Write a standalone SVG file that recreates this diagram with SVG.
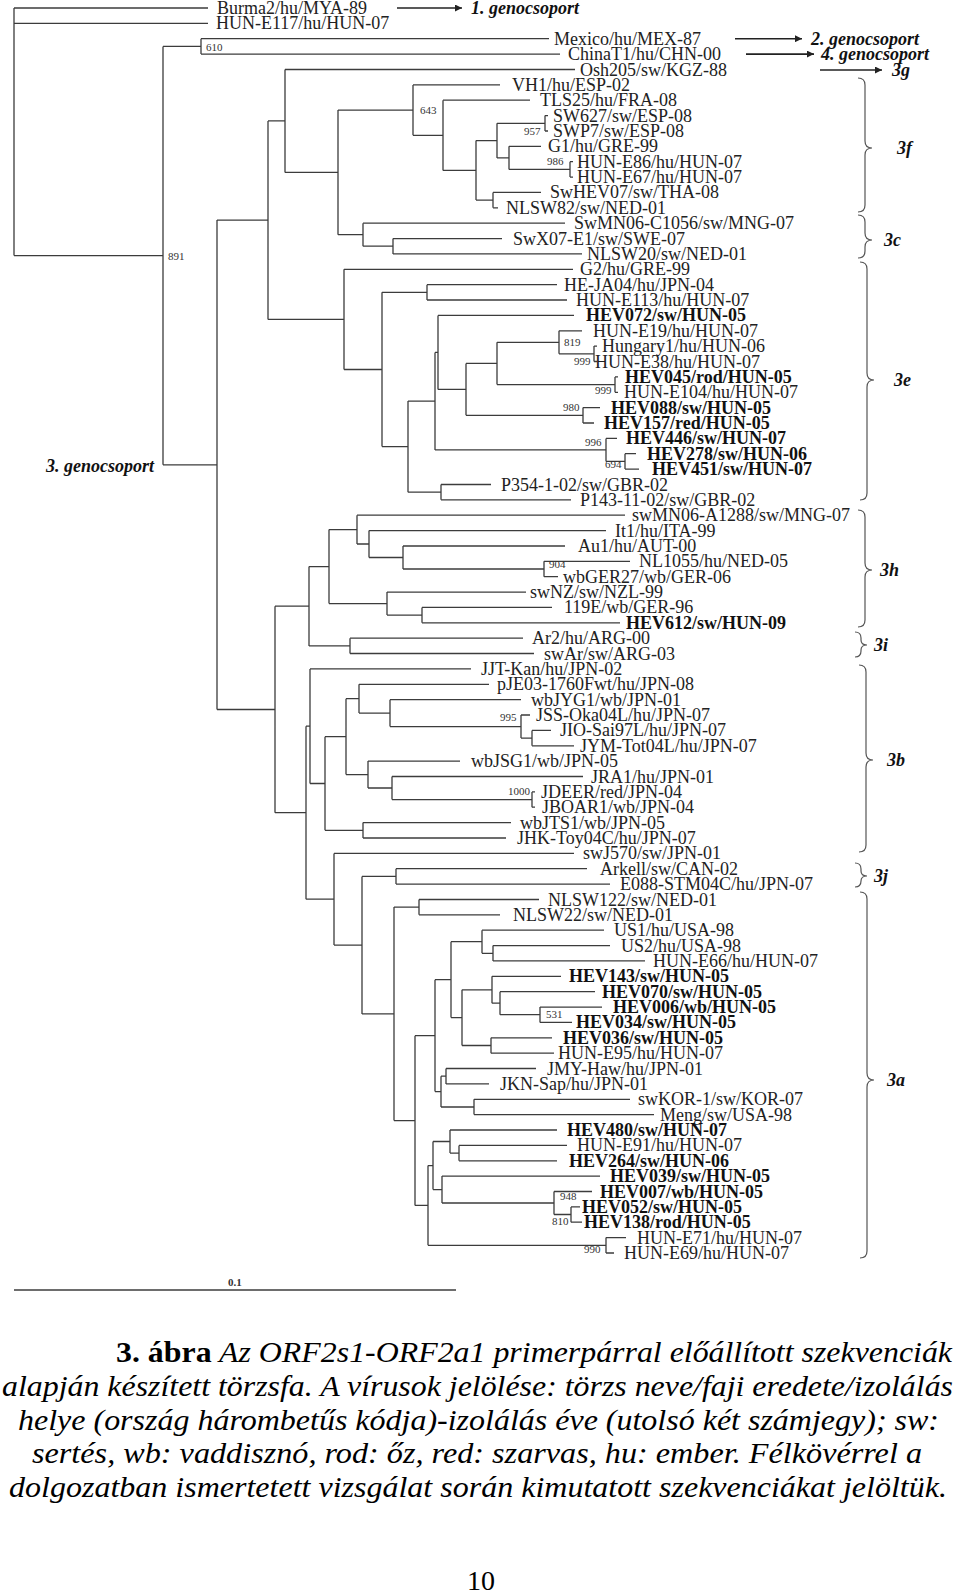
<svg xmlns="http://www.w3.org/2000/svg" width="960" height="1594" viewBox="0 0 960 1594">
<style>
.br{fill:none;stroke:#3c3c3c;stroke-width:1.3}
.lf{font-family:"Liberation Serif","Times New Roman",serif;font-size:18px;fill:#222}
.lb{font-family:"Liberation Serif","Times New Roman",serif;font-size:18px;font-weight:bold;fill:#111}
.bs{font-family:"Liberation Serif","Times New Roman",serif;font-size:11px;fill:#333}
.gl{font-family:"Liberation Serif","Times New Roman",serif;font-size:18px;font-weight:bold;font-style:italic;fill:#111}
.brace{fill:none;stroke:#555;stroke-width:1.2}
.arr{fill:none;stroke:#222;stroke-width:1.6}
.cap{font-family:"Liberation Serif","Times New Roman",serif;font-size:29px;font-style:italic;fill:#000}
.pg{font-family:"Liberation Serif","Times New Roman",serif;font-size:28px;fill:#000}
</style>
<defs>
<marker id="ah" viewBox="0 0 10 10" refX="10" refY="5" markerWidth="10" markerHeight="7" orient="auto" markerUnits="userSpaceOnUse"><path d="M0,0 L10,5 L0,10 z" fill="#222"/></marker>
</defs>
<rect width="960" height="1594" fill="#fff"/>
<g id="connectors">
<path class="br" d="M14,8 V255.6 M14,255.6 H163 M163,46.4 V464.8 M163,46.4 H201 M201,38.7 V54.1 M163,464.8 H217 M217,220.1 V709.5
M217,220.1 H268 M268,120.9 V319.4 M268,120.9 H285 M285,69.5 V172.4 M285,172.4 H338 M338,110.1 V234.7 M338,110.1 H413 M413,84.9 V135.3
M413,135.3 H443 M443,100.2 V170.4 M443,170.4 H476 M476,140.6 V200.1 M476,140.6 H497 M497,123.3 V157.9 M497,123.3 H545 M545,115.6 V131
M497,157.9 H509 M509,146.3 V169.4 M509,169.4 H570 M570,161.7 V177.1 M476,200.1 H493 M493,192.4 V207.8 M338,234.7 H363 M363,223.2 V246.2
M363,246.2 H393 M393,238.6 V253.9 M268,319.4 H344 M344,269.3 V369.5 M344,369.5 H382 M382,292.3 V446.6 M382,292.3 H427 M427,284.7 V300
M382,446.6 H408 M408,401.1 V492.2 M408,401.1 H435 M435,352.4 V449.9 M435,352.4 H438 M438,315.4 V389.4 M438,389.4 H466 M466,363.4 V415.3
M466,363.4 H497 M497,342.3 V384.6 M497,342.3 H559 M559,330.8 V353.8 M559,353.8 H594 M594,346.1 V361.5 M497,384.6 H615 M615,376.9 V392.3
M466,415.3 H583 M583,407.6 V423 M435,449.9 H606 M606,438.4 V461.4 M606,461.4 H625 M625,453.7 V469.1 M408,492.2 H441 M441,484.5 V499.8
M217,709.5 H275 M275,606.2 V812.7 M275,606.2 H309 M309,566.6 V645.9 M309,566.6 H329 M329,529.6 V603.6 M329,529.6 H357 M357,515.2 V544
M357,544 H369 M369,530.6 V557.5 M369,557.5 H403 M403,546 V569 M403,569 H544 M544,561.3 V576.7 M329,603.6 H387 M387,592.1 V615.1
M387,615.1 H422 M422,607.4 V622.8 M309,645.9 H350 M350,638.2 V653.5
M275,812.7 H306 M306,726.2 V899.2 M306,726.2 H310 M310,668.9 V783.5 M310,783.5 H325 M325,736.7 V830.3 M325,736.7 H346 M346,698.7 V774.6
M346,698.7 H359 M359,684.3 V713.1 M359,713.1 H390 M390,699.7 V726.6 M390,726.6 H521 M521,715 V738.1 M521,738.1 H532 M532,730.4 V745.8
M346,774.6 H368 M368,761.1 V788 M368,788 H392 M392,776.5 V799.6 M392,799.6 H532 M532,791.9 V807.2 M325,830.3 H363 M363,822.6 V838
M306,899.2 H334 M334,853.4 V945.1 M334,945.1 H362 M362,876.4 V1013.9 M362,876.4 H396 M396,868.7 V884.1 M362,1013.9 H394 M394,907.1 V1120.6
M394,907.1 H419 M419,899.5 V914.8 M394,1120.6 H415 M415,1035.7 V1205.4 M415,1035.7 H435 M435,979.7 V1091.6 M435,979.7 H451 M451,941.7 V1017.6
M451,941.7 H482 M482,930.2 V953.3 M482,953.3 H493 M493,945.6 V960.9 M451,1017.6 H462 M462,989.8 V1045.5 M462,989.8 H492 M492,976.3 V1003.2
M492,1003.2 H500 M500,991.7 V1014.7 M500,1014.7 H540 M540,1007.1 V1022.4 M462,1045.5 H491 M491,1037.8 V1053.2
M435,1091.6 H441 M441,1076.2 V1107 M441,1076.2 H446 M446,1068.5 V1083.9 M441,1107 H474 M474,1099.3 V1114.6
M415,1205.4 H428 M428,1165.6 V1245.3 M428,1165.6 H433 M433,1141.5 V1189.6 M433,1141.5 H450 M450,1130 V1153.1 M450,1153.1 H459 M459,1145.4 V1160.8
M433,1189.6 H442 M442,1176.1 V1203 M442,1203 H554 M554,1191.5 V1214.5 M554,1214.5 H571 M571,1206.9 V1222.2 M428,1245.3 H606 M606,1237.6 V1253"/>
<path class="br" d="M14,8 H208 M14,23.4 H208 M201,38.7 H549 M201,54.1 H560 M285,69.5 H575 M413,84.9 H500 M443,100.2 H530 M545,115.6 H548 M545,131 H548
M509,146.3 H541 M570,161.7 H573 M570,177.1 H573 M493,192.4 H541 M493,207.8 H498 M363,223.2 H565 M393,238.6 H502 M393,253.9 H582
M344,269.3 H573 M427,284.7 H557 M427,300 H567 M438,315.4 H574 M559,330.8 H582 M594,346.1 H597 M594,361.5 H597 M615,376.9 H618 M615,392.3 H618
M583,407.6 H600 M583,423 H594 M606,438.4 H617 M625,453.7 H636 M625,469.1 H639 M441,484.5 H491 M441,499.8 H571
M357,515.2 H625 M369,530.6 H606 M403,546 H565 M544,561.3 H630 M544,576.7 H558 M387,592.1 H526 M422,607.4 H552 M422,622.8 H620
M350,638.2 H523 M350,653.5 H534 M310,668.9 H471 M359,684.3 H489 M390,699.7 H521 M521,715 H530 M532,730.4 H551 M532,745.8 H574
M368,761.1 H460 M392,776.5 H583 M532,791.9 H535 M532,807.2 H535 M363,822.6 H511 M363,838 H506 M334,853.4 H574 M396,868.7 H587 M396,884.1 H610
M419,899.5 H539 M419,914.8 H500 M482,930.2 H604 M493,945.6 H610 M493,960.9 H645 M492,976.3 H561 M500,991.7 H595 M540,1007.1 H602 M540,1022.4 H572
M491,1037.8 H552 M491,1053.2 H554 M446,1068.5 H536 M446,1083.9 H489 M474,1099.3 H630 M474,1114.6 H654
M450,1130 H557 M459,1145.4 H567 M459,1160.8 H557 M442,1176.1 H600 M554,1191.5 H592 M571,1206.9 H580 M571,1222.2 H582 M606,1237.6 H626 M606,1253 H614"/>
<path class="arr" d="M397,8 H462" marker-end="url(#ah)"/>
<path class="arr" d="M735,38.7 H802" marker-end="url(#ah)"/>
<path class="arr" d="M746,54.1 H814" marker-end="url(#ah)"/>
<path class="arr" d="M820,70 H882" marker-end="url(#ah)"/>
<path class="br" d="M14,1290 H456"/>
</g>
<g id="leaves">
<g id="n01"><text class="lf" x="217" y="14">Burma2/hu/MYA-89</text></g>
<g id="n02"><text class="lf" x="216" y="29.4">HUN-E117/hu/HUN-07</text></g>
<g id="n03"><text class="lf" x="554" y="44.7">Mexico/hu/MEX-87</text></g>
<g id="n04"><text class="lf" x="568" y="60.1">ChinaT1/hu/CHN-00</text></g>
<g id="n05"><text class="lf" x="580" y="75.5">Osh205/sw/KGZ-88</text></g>
<g id="n06"><text class="lf" x="512" y="90.9">VH1/hu/ESP-02</text></g>
<g id="n07"><text class="lf" x="540" y="106.2">TLS25/hu/FRA-08</text></g>
<g id="n08"><text class="lf" x="553" y="121.6">SW627/sw/ESP-08</text></g>
<g id="n09"><text class="lf" x="553" y="137">SWP7/sw/ESP-08</text></g>
<g id="n10"><text class="lf" x="548" y="152.3">G1/hu/GRE-99</text></g>
<g id="n11"><text class="lf" x="577" y="167.7">HUN-E86/hu/HUN-07</text></g>
<g id="n12"><text class="lf" x="577" y="183.1">HUN-E67/hu/HUN-07</text></g>
<g id="n13"><text class="lf" x="550" y="198.4">SwHEV07/sw/THA-08</text></g>
<g id="n14"><text class="lf" x="506" y="213.8">NLSW82/sw/NED-01</text></g>
<g id="n15"><text class="lf" x="574" y="229.2">SwMN06-C1056/sw/MNG-07</text></g>
<g id="n16"><text class="lf" x="513" y="244.6">SwX07-E1/sw/SWE-07</text></g>
<g id="n17"><text class="lf" x="587" y="259.9">NLSW20/sw/NED-01</text></g>
<g id="n18"><text class="lf" x="580" y="275.3">G2/hu/GRE-99</text></g>
<g id="n19"><text class="lf" x="564" y="290.7">HE-JA04/hu/JPN-04</text></g>
<g id="n20"><text class="lf" x="576" y="306">HUN-E113/hu/HUN-07</text></g>
<g id="n21"><text class="lb" x="586" y="321.4">HEV072/sw/HUN-05</text></g>
<g id="n22"><text class="lf" x="593" y="336.8">HUN-E19/hu/HUN-07</text></g>
<g id="n23"><text class="lf" x="602" y="352.1">Hungary1/hu/HUN-06</text></g>
<g id="n24"><text class="lf" x="595" y="367.5">HUN-E38/hu/HUN-07</text></g>
<g id="n25"><text class="lb" x="625" y="382.9">HEV045/rod/HUN-05</text></g>
<g id="n26"><text class="lf" x="624" y="398.3">HUN-E104/hu/HUN-07</text></g>
<g id="n27"><text class="lb" x="611" y="413.6">HEV088/sw/HUN-05</text></g>
<g id="n28"><text class="lb" x="604" y="429">HEV157/red/HUN-05</text></g>
<g id="n29"><text class="lb" x="626" y="444.4">HEV446/sw/HUN-07</text></g>
<g id="n30"><text class="lb" x="647" y="459.7">HEV278/sw/HUN-06</text></g>
<g id="n31"><text class="lb" x="652" y="475.1">HEV451/sw/HUN-07</text></g>
<g id="n32"><text class="lf" x="501" y="490.5">P354-1-02/sw/GBR-02</text></g>
<g id="n33"><text class="lf" x="580" y="505.8">P143-11-02/sw/GBR-02</text></g>
<g id="n34"><text class="lf" x="632" y="521.2">swMN06-A1288/sw/MNG-07</text></g>
<g id="n35"><text class="lf" x="615" y="536.6">It1/hu/ITA-99</text></g>
<g id="n36"><text class="lf" x="578" y="552">Au1/hu/AUT-00</text></g>
<g id="n37"><text class="lf" x="639" y="567.3">NL1055/hu/NED-05</text></g>
<g id="n38"><text class="lf" x="563" y="582.7">wbGER27/wb/GER-06</text></g>
<g id="n39"><text class="lf" x="530" y="598.1">swNZ/sw/NZL-99</text></g>
<g id="n40"><text class="lf" x="564" y="613.4">119E/wb/GER-96</text></g>
<g id="n41"><text class="lb" x="626" y="628.8">HEV612/sw/HUN-09</text></g>
<g id="n42"><text class="lf" x="532" y="644.2">Ar2/hu/ARG-00</text></g>
<g id="n43"><text class="lf" x="544" y="659.5">swAr/sw/ARG-03</text></g>
<g id="n44"><text class="lf" x="481" y="674.9">JJT-Kan/hu/JPN-02</text></g>
<g id="n45"><text class="lf" x="497" y="690.3">pJE03-1760Fwt/hu/JPN-08</text></g>
<g id="n46"><text class="lf" x="531" y="705.7">wbJYG1/wb/JPN-01</text></g>
<g id="n47"><text class="lf" x="536" y="721">JSS-Oka04L/hu/JPN-07</text></g>
<g id="n48"><text class="lf" x="560" y="736.4">JIO-Sai97L/hu/JPN-07</text></g>
<g id="n49"><text class="lf" x="580" y="751.8">JYM-Tot04L/hu/JPN-07</text></g>
<g id="n50"><text class="lf" x="471" y="767.1">wbJSG1/wb/JPN-05</text></g>
<g id="n51"><text class="lf" x="591" y="782.5">JRA1/hu/JPN-01</text></g>
<g id="n52"><text class="lf" x="541" y="797.9">JDEER/red/JPN-04</text></g>
<g id="n53"><text class="lf" x="542" y="813.2">JBOAR1/wb/JPN-04</text></g>
<g id="n54"><text class="lf" x="520" y="828.6">wbJTS1/wb/JPN-05</text></g>
<g id="n55"><text class="lf" x="517" y="844">JHK-Toy04C/hu/JPN-07</text></g>
<g id="n56"><text class="lf" x="583" y="859.4">swJ570/sw/JPN-01</text></g>
<g id="n57"><text class="lf" x="600" y="874.7">Arkell/sw/CAN-02</text></g>
<g id="n58"><text class="lf" x="620" y="890.1">E088-STM04C/hu/JPN-07</text></g>
<g id="n59"><text class="lf" x="548" y="905.5">NLSW122/sw/NED-01</text></g>
<g id="n60"><text class="lf" x="513" y="920.8">NLSW22/sw/NED-01</text></g>
<g id="n61"><text class="lf" x="614" y="936.2">US1/hu/USA-98</text></g>
<g id="n62"><text class="lf" x="621" y="951.6">US2/hu/USA-98</text></g>
<g id="n63"><text class="lf" x="653" y="966.9">HUN-E66/hu/HUN-07</text></g>
<g id="n64"><text class="lb" x="569" y="982.3">HEV143/sw/HUN-05</text></g>
<g id="n65"><text class="lb" x="602" y="997.7">HEV070/sw/HUN-05</text></g>
<g id="n66"><text class="lb" x="613" y="1013.1">HEV006/wb/HUN-05</text></g>
<g id="n67"><text class="lb" x="576" y="1028.4">HEV034/sw/HUN-05</text></g>
<g id="n68"><text class="lb" x="563" y="1043.8">HEV036/sw/HUN-05</text></g>
<g id="n69"><text class="lf" x="558" y="1059.2">HUN-E95/hu/HUN-07</text></g>
<g id="n70"><text class="lf" x="547" y="1074.5">JMY-Haw/hu/JPN-01</text></g>
<g id="n71"><text class="lf" x="500" y="1089.9">JKN-Sap/hu/JPN-01</text></g>
<g id="n72"><text class="lf" x="638" y="1105.3">swKOR-1/sw/KOR-07</text></g>
<g id="n73"><text class="lf" x="660" y="1120.6">Meng/sw/USA-98</text></g>
<g id="n74"><text class="lb" x="567" y="1136">HEV480/sw/HUN-07</text></g>
<g id="n75"><text class="lf" x="577" y="1151.4">HUN-E91/hu/HUN-07</text></g>
<g id="n76"><text class="lb" x="569" y="1166.8">HEV264/sw/HUN-06</text></g>
<g id="n77"><text class="lb" x="610" y="1182.1">HEV039/sw/HUN-05</text></g>
<g id="n78"><text class="lb" x="600" y="1197.5">HEV007/wb/HUN-05</text></g>
<g id="n79"><text class="lb" x="582" y="1212.9">HEV052/sw/HUN-05</text></g>
<g id="n80"><text class="lb" x="584" y="1228.2">HEV138/rod/HUN-05</text></g>
<g id="n81"><text class="lf" x="637" y="1243.6">HUN-E71/hu/HUN-07</text></g>
<g id="n82"><text class="lf" x="624" y="1259">HUN-E69/hu/HUN-07</text></g>
</g>
<g id="bootstrap">
<text class="bs" x="206" y="51">610</text>
<text class="bs" x="168" y="260">891</text>
<text class="bs" x="420" y="114">643</text>
<text class="bs" x="524" y="135">957</text>
<text class="bs" x="547" y="165">986</text>
<text class="bs" x="564" y="346">819</text>
<text class="bs" x="574" y="365">999</text>
<text class="bs" x="595" y="394">999</text>
<text class="bs" x="563" y="411">980</text>
<text class="bs" x="585" y="446">996</text>
<text class="bs" x="605" y="468">694</text>
<text class="bs" x="549" y="568">904</text>
<text class="bs" x="500" y="721">995</text>
<text class="bs" x="508" y="795">1000</text>
<text class="bs" x="546" y="1018">531</text>
<text class="bs" x="560" y="1200">948</text>
<text class="bs" x="552" y="1225">810</text>
<text class="bs" x="584" y="1253">990</text>
<text class="bs" x="228" y="1286" font-weight="bold">0.1</text>
</g>
<g id="groups">
<text class="gl" x="471" y="14" font-size="17.5">1. genocsoport</text>
<text class="gl" x="811" y="44.5" font-size="17.5">2. genocsoport</text>
<text class="gl" x="821" y="60" font-size="17.5">4. genocsoport</text>
<text class="gl" x="46" y="472" font-size="17.5">3. genocsoport</text>
<text class="gl" x="892" y="76">3g</text>
<path class="brace" d="M858,78 Q865,78 865,85 V141 Q865,148 872,148 Q865,148 865,155 V205 Q865,212 858,212"/>
<text class="gl" x="897" y="154">3f</text>
<path class="brace" d="M858,215 Q865,215 865,222 V233 Q865,240 872,240 Q865,240 865,247 V251 Q865,258 858,258"/>
<text class="gl" x="884" y="246">3c</text>
<path class="brace" d="M860,262 Q867,262 867,269 V373 Q867,380 874,380 Q867,380 867,387 V493 Q867,500 860,500"/>
<text class="gl" x="894" y="386">3e</text>
<path class="brace" d="M858,510 Q865,510 865,517 V563 Q865,570 872,570 Q865,570 865,577 V620 Q865,627 858,627"/>
<text class="gl" x="880" y="576">3h</text>
<path class="brace" d="M855,632 Q861,632 861,638 V640 Q861,645 867,645 Q861,645 861,650 V651 Q861,657 855,657"/>
<text class="gl" x="874" y="651">3i</text>
<path class="brace" d="M859,665 Q866,665 866,672 V753 Q866,760 873,760 Q866,760 866,767 V845 Q866,852 859,852"/>
<text class="gl" x="887" y="766">3b</text>
<path class="brace" d="M855,863 Q861,863 861,869 V871 Q861,876 867,876 Q861,876 861,881 V881 Q861,887 855,887"/>
<text class="gl" x="874" y="882">3j</text>
<path class="brace" d="M860,892 Q867,892 867,899 V1073 Q867,1080 874,1080 Q867,1080 867,1087 V1251 Q867,1258 860,1258"/>
<text class="gl" x="887" y="1086">3a</text>
</g>
<g id="caption">
<text class="cap" x="116" y="1362" textLength="836" lengthAdjust="spacingAndGlyphs"><tspan font-weight="bold" font-style="normal">3. ábra</tspan> Az ORF2s1-ORF2a1 primerpárral előállított szekvenciák</text>
<text class="cap" x="2" y="1396" textLength="951" lengthAdjust="spacingAndGlyphs">alapján készített törzsfa. A vírusok jelölése: törzs neve/faji eredete/izolálás</text>
<text class="cap" x="18" y="1430" textLength="921" lengthAdjust="spacingAndGlyphs">helye (ország hárombetűs kódja)-izolálás éve (utolsó két számjegy); sw:</text>
<text class="cap" x="32" y="1463" textLength="890" lengthAdjust="spacingAndGlyphs">sertés, wb: vaddisznó, rod: őz, red: szarvas, hu: ember. Félkövérrel a</text>
<text class="cap" x="9" y="1497" textLength="938" lengthAdjust="spacingAndGlyphs">dolgozatban ismertetett vizsgálat során kimutatott szekvenciákat jelöltük.</text>
<text class="pg" x="481" y="1590" text-anchor="middle">10</text>
</g>
</svg>
